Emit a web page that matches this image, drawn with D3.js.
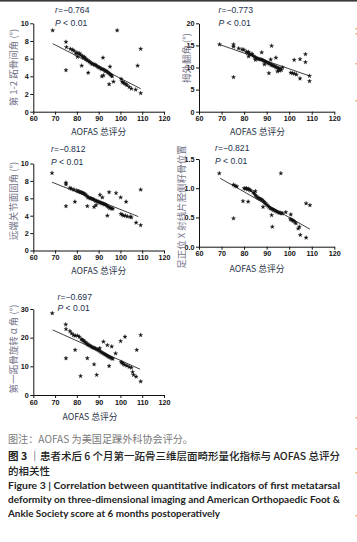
<!DOCTYPE html>
<html><head><meta charset="utf-8">
<script src="https://cdn.jsdelivr.net/npm/d3@7"></script>
<style>html,body{margin:0;padding:0;background:#fff;} svg{display:block}</style>
</head><body>
<svg id="c" width="357" height="542"></svg>
<script>
// ---------- DATA ----------
const xTicks = [60, 70, 80, 90, 100, 110, 120];
const xTitle = "AOFAS 总评分";

const imaPoints = [[68.9,9.2],[98.5,9.2],[75,7.9],[75.2,7.3],[75,4.7],[77,7.1],[78,7.0],[78.6,6.9],[79.5,6.6],[80,6.7],[80.3,6.2],[80.8,6.5],[81.3,6.6],[81.8,6.4],[82.2,5.2],[82.4,6.3],[83,6.1],[83.4,6.2],[84,6.0],[84.4,5.9],[85,5.8],[85.2,4.4],[85.6,5.7],[86,5.6],[86.5,5.5],[87,5.4],[87.4,5.4],[88,5.3],[88.5,5.3],[89,5.2],[89.5,5.1],[90,5.0],[90.4,5.0],[91,4.9],[91.4,4.8],[91.5,4.0],[92,6.1],[92,4.8],[92.2,4.1],[92.6,4.7],[93,4.6],[93.4,4.6],[94,4.5],[94.4,4.4],[94.8,3.1],[95,4.3],[95.2,5.1],[95.4,4.2],[95.8,4.1],[96.2,4.0],[96.8,3.4],[100.3,3.7],[100.8,3.4],[101.2,3.3],[101.8,3.2],[102.5,3.1],[103,3.0],[104,2.8],[105,2.6],[107,2.5],[107.9,5.2],[109.3,7.1],[109.3,2.1]];
const imaFit = [[68.9,7.7],[109.3,2.6]];

const hvaPoints = [[69.1,15.2],[75.3,15.2],[75.3,14.7],[75.3,7.8],[77.6,14.3],[79.1,14.1],[79.9,14.0],[81,13.6],[81.5,13.3],[82,13.5],[82,12.5],[82.5,13.0],[83,12.9],[83.5,13.1],[84,12.7],[84.5,12.4],[85,12.3],[85,11.7],[85.5,12.1],[86,12.0],[86.5,11.9],[87,11.9],[87.5,11.8],[87.8,13.4],[88,11.7],[88.5,11.6],[89,11.4],[89,10.7],[89.5,11.3],[90,11.2],[90.5,11.0],[91,10.9],[91,8.7],[91.5,10.8],[91.8,11.8],[92,10.6],[92.2,14.9],[92.5,10.5],[93,10.4],[93.5,10.3],[94,10.1],[94.1,12.2],[94.5,10.0],[94.8,9.1],[95,9.9],[95.5,9.8],[95.6,9.3],[96,9.6],[96.5,9.4],[97,10.0],[100.7,8.8],[101.5,8.7],[102.2,11.7],[102.3,8.6],[103.2,8.4],[104.8,11.9],[104.8,7.5],[107.2,13.0],[107.2,11.2],[109,8.1],[109,6.9]];
const hvaFit = [[69.1,15.2],[109,8.1]];

const dasaPoints = [[68.6,8.9],[75,7.8],[75,7.6],[75,5.1],[76.8,7.2],[77.6,7.1],[78.7,7.0],[79.1,5.6],[80,6.9],[80.5,6.8],[81,6.8],[81.5,6.7],[82,6.7],[82.5,6.6],[83,6.6],[83.5,6.5],[84,6.4],[84.5,6.3],[84.8,5.1],[85,6.1],[85.5,6.1],[86,6.0],[86.5,6.0],[87,5.9],[87.5,5.9],[87.9,5.0],[88,5.8],[88.5,5.7],[88.8,5.2],[89,5.7],[89.5,5.6],[90,5.6],[90.5,5.5],[90.6,6.4],[91,5.5],[91.5,5.4],[91.7,6.1],[92,5.4],[92.5,5.3],[93,5.3],[93.5,5.2],[94,5.1],[94,4.0],[94.5,5.0],[94.8,6.7],[95,4.9],[95.5,4.9],[96,4.8],[96.5,4.8],[98,6.6],[100.1,6.1],[100.2,4.2],[100.8,4.1],[101.5,4.0],[102.3,4.0],[102.6,5.6],[103.2,3.9],[104.5,3.9],[105,3.8],[107.2,3.2],[109.3,2.9],[109.3,7.0]];
const dasaFit = [[68.6,7.85],[108.2,3.9]];

const sesPoints = [[69,1.255],[75.3,1.06],[76,1.04],[76.8,1.03],[75.3,0.485],[79.5,0.78],[80,1.0],[80.5,0.99],[81,1.0],[81.5,0.98],[81.8,0.77],[82,0.99],[82.5,0.97],[83,0.96],[84,0.93],[84.5,0.91],[85,0.95],[85,0.88],[85.5,0.86],[86,0.84],[86.5,0.83],[87,0.82],[87.5,0.81],[88,0.80],[88.4,0.68],[88.5,0.78],[89,0.76],[89.5,0.74],[90,0.72],[90.5,0.70],[91,0.68],[91.5,0.66],[92,0.65],[92.2,0.54],[92.5,0.34],[92.6,0.64],[93,0.63],[93.5,0.62],[94,0.61],[94.5,0.60],[95,0.59],[95.5,0.58],[96,0.58],[96.3,1.255],[96.5,0.57],[97,0.57],[98.5,0.59],[100.5,0.47],[100.7,0.55],[101,0.46],[101.5,0.45],[102,0.44],[102.5,0.42],[103,0.40],[104,0.31],[104.5,0.34],[104.9,0.2],[107.5,0.155],[107.5,0.74],[109.2,0.71]];
const sesFit = [[69.4,1.17],[109.2,0.30]];

const alphaPoints = [[68.7,28.5],[74.9,24.6],[75,23.0],[75,12.8],[76.8,22.3],[77.6,21.5],[78.4,20.9],[79.2,20.7],[79.2,15.7],[80.2,20.7],[81.1,20.3],[81.7,6.6],[82,19.5],[82.5,19.2],[83,19.0],[83.5,18.6],[84,18.3],[84.5,18.0],[84.8,12.8],[85,17.6],[85.5,17.4],[86,17.2],[86.5,16.9],[87,16.7],[87.5,16.5],[87.9,10.7],[88,16.4],[88.5,16.2],[89,16.0],[89.1,7.0],[89.5,15.8],[90,15.6],[90.5,15.3],[90.5,16.3],[91,15.0],[91.5,14.8],[92,14.6],[92.2,18.6],[92.5,14.3],[93,14.1],[93.5,13.9],[94,13.6],[94,17.4],[94.5,13.4],[94.8,10.1],[95,13.2],[95.5,13.0],[96,12.8],[96,16.9],[96.5,12.6],[97.8,14.5],[100.1,18.8],[100.3,11.5],[100.8,11.2],[101.3,10.8],[102,10.5],[102.1,20.3],[103,10.2],[104,9.8],[105,9.5],[105.6,8.0],[106,7.0],[107.2,6.4],[107.5,15.7],[109.3,20.9],[109.3,4.7]];
const alphaFit = [[68.9,22.7],[109,9.0]];

const yLabels = ["第 1-2 跖骨间角 (°)", "拇外翻角 (°)", "远端关节面固角 (°)", "足正位 X 射线片胫侧籽骨位置", "第一跖骨旋转 α 角 (°)"];
const rValues = ["−0.764", "−0.773", "−0.812", "−0.821", "−0.697"];
const pText = "< 0.01";
const yTicks1 = [0, 2, 4, 6, 8, 10];
const yTicks2 = [0, 5, 10, 15, 20];
const yTicks3 = [0, 2, 4, 6, 8, 10];
const yTicks4 = [0, 0.5, 1.0, 1.5];
const yTicks5 = [0, 10, 20, 30];

const captionNote = "图注：AOFAS 为美国足踝外科协会评分。";
const captionCN1a = "图 3";
const captionCN1b = "｜患者术后 6 个月第一跖骨三维层面畸形量化指标与 AOFAS 总评分";
const captionCN2 = "的相关性";
const captionEN = ["Figure 3  |  Correlation between quantitative indicators of first metatarsal",
                   "deformity on three-dimensional imaging and American Orthopaedic Foot &",
                   "Ankle Society score at 6 months postoperatively"];

// ---------- LAYOUT ----------
const svg = d3.select("#c");
svg.append("rect").attr("width",357).attr("height",542).attr("fill","#fff");
svg.append("rect").attr("x",0).attr("y",0).attr("width",357).attr("height",1.6).attr("fill","#3a3a3a");

const panels = [
  {pts: imaPoints, fit: imaFit, ticks: yTicks1, fmt: d3.format("d"), x0:33.3, x1:164, yb:111.7, yt:23.3,
   rx:55, ry:13, py:26.3, tx:98.8, ty:135, lx:12.5, ly:67.5},
  {pts: hvaPoints, fit: hvaFit, ticks: yTicks2, fmt: d3.format("d"), x0:199, x1:334.3, yb:111.7, yt:23.3,
   rx:218.5, ry:13, py:26.3, tx:257.5, ty:135, lx:185.5, ly:58},
  {pts: dasaPoints, fit: dasaFit, ticks: yTicks3, fmt: d3.format("d"), x0:33.3, x1:164, yb:250.5, yt:163.5,
   rx:51, ry:152, py:164.7, tx:98.8, ty:273.5, lx:12.5, ly:201},
  {pts: sesPoints, fit: sesFit, ticks: yTicks4, fmt: d3.format(".1f"), x0:199, x1:334.3, yb:246.7, yt:159,
   rx:215, ry:150.7, py:164, tx:257, ty:271.5, lx:181, ly:207},
  {pts: alphaPoints, fit: alphaFit, ticks: yTicks5, fmt: d3.format("d"), x0:33.3, x1:164, yb:395, yt:309,
   rx:57.5, ry:299.7, py:311.3, tx:90, ty:420, lx:12.5, ly:349}
];

const tickFont = "'Liberation Sans', Arial, sans-serif";
const cjkFont = "'Noto Sans CJK SC', 'Noto Sans', sans-serif";
const star = d3.symbol().type(d3.symbolStar).size(5.5);

panels.forEach((p, i) => {
  const x = d3.scaleLinear().domain([60, 120]).range([p.x0, p.x1]);
  const yMax = p.ticks[p.ticks.length - 1];
  const y = d3.scaleLinear().domain([0, yMax]).range([p.yb, p.yt]);
  const g = svg.append("g");

  const xa = g.append("g").attr("transform", `translate(0,${p.yb})`)
    .call(d3.axisBottom(x).tickValues(xTicks).tickSize(3).tickSizeOuter(0).tickPadding(1.5));
  const ya = g.append("g").attr("transform", `translate(${p.x0},0)`)
    .call(d3.axisLeft(y).tickValues(p.ticks).tickFormat(p.fmt).tickSize(3).tickSizeOuter(0).tickPadding(1.5));
  [xa, ya].forEach(a => {
    a.selectAll("path,line").attr("stroke", "#111").attr("stroke-width", 1);
    a.selectAll("text").attr("font-family", tickFont).attr("font-size", 7.2)
      .attr("font-weight", "bold").attr("fill", "#111");
  });

  // fit line
  g.append("line")
    .attr("x1", x(p.fit[0][0])).attr("y1", y(p.fit[0][1]))
    .attr("x2", x(p.fit[1][0])).attr("y2", y(p.fit[1][1]))
    .attr("stroke", "#111").attr("stroke-width", 0.8);

  // points
  g.selectAll("path.pt").data(p.pts).join("path").attr("class","pt")
    .attr("d", star)
    .attr("transform", d => `translate(${x(d[0])},${y(d[1])})`)
    .attr("fill", "#111").attr("stroke", "#111").attr("stroke-width", 0.3);

  // stats
  const st = g.append("text").attr("x", p.rx).attr("y", p.ry)
    .attr("font-family", tickFont).attr("font-size", 8.6).attr("fill", "#22304d");
  st.append("tspan").attr("font-style","italic").text("r");
  st.append("tspan").text("=" + rValues[i]);
  const pt = g.append("text").attr("x", p.rx).attr("y", p.py)
    .attr("font-family", tickFont).attr("font-size", 8.6).attr("fill", "#22304d");
  pt.append("tspan").attr("font-style","italic").text("P");
  pt.append("tspan").text(" " + pText);

  // x title
  g.append("text").attr("x", p.tx).attr("y", p.ty).attr("text-anchor","middle")
    .attr("font-family", cjkFont).attr("font-size", 8.8).attr("fill", "#2b3447").text(xTitle);

  // y label
  g.append("text").attr("transform", `translate(${p.lx},${p.ly}) rotate(-90)`)
    .attr("text-anchor","middle").attr("dominant-baseline","central")
    .attr("font-family", cjkFont).attr("font-size", 9.5).attr("fill", "#76758a").text(yLabels[i]);
});

// ---------- CAPTION ----------
svg.append("text").attr("x", 8).attr("y", 443).attr("font-family", cjkFont).attr("font-size", 10.3)
  .attr("fill", "#7a7a7a").attr("textLength", 185).attr("lengthAdjust","spacingAndGlyphs").text(captionNote);
const c1 = svg.append("text").attr("x", 8).attr("y", 459.5).attr("font-family", cjkFont).attr("font-size", 10.5)
  .attr("fill", "#222");
c1.append("tspan").attr("font-weight","bold").text(captionCN1a);
c1.append("tspan").attr("font-weight","500").text(" " + captionCN1b);
c1.attr("textLength", 332).attr("lengthAdjust","spacingAndGlyphs");
svg.append("text").attr("x", 8).attr("y", 474.5).attr("font-family", cjkFont).attr("font-size", 10.5)
  .attr("font-weight","500").attr("fill", "#222").text(captionCN2);
const enW = [332, 332, 212];
captionEN.forEach((t, k) => {
  svg.append("text").attr("x", 8).attr("y", 488.5 + k * 14.4)
    .attr("font-family", "Lato, 'Liberation Sans', sans-serif").attr("font-size", 9.4).attr("font-weight","bold")
    .attr("fill", "#222").attr("textLength", enW[k]).attr("lengthAdjust","spacingAndGlyphs").text(t);
});

// page-edge marks from adjacent column
const edgeMarks = [28, 33, 63, 100, 417, 448, 472, 515];
svg.selectAll("rect.edge").data(edgeMarks).join("rect").attr("class","edge")
  .attr("x", 355.5).attr("y", d => d).attr("width", 1.5).attr("height", 1.5).attr("fill", "#eeaa66");
</script></body></html>
